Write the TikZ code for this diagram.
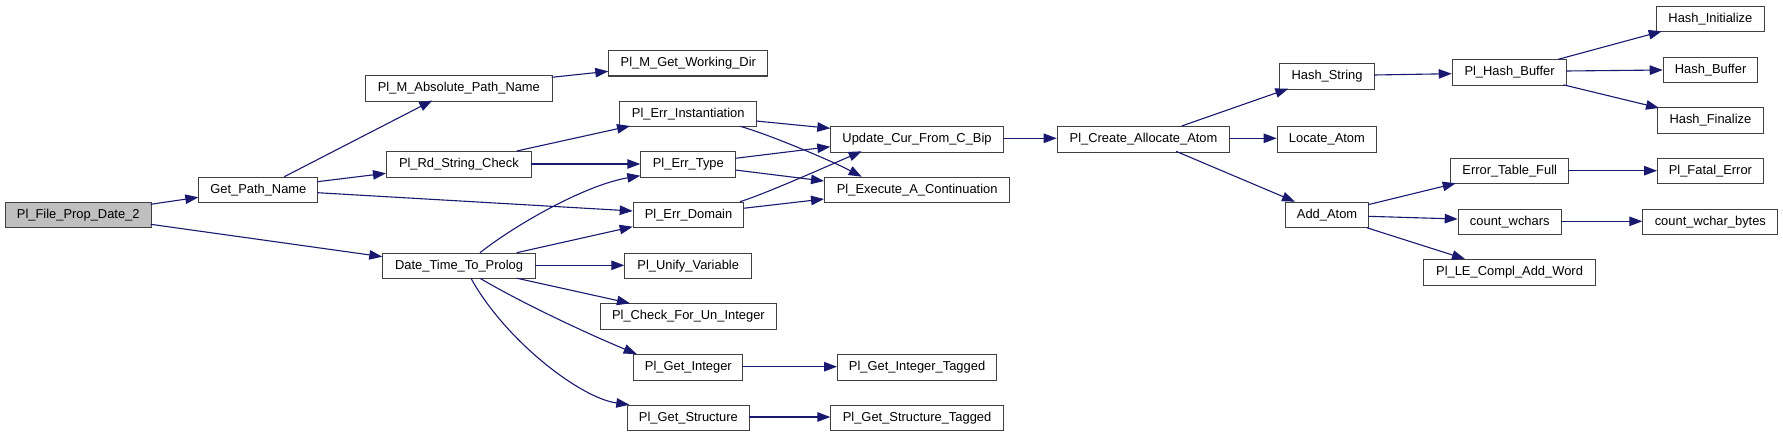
\documentclass[tikz,border=0pt]{standalone}
\usepackage{fontspec}
\setmainfont{Liberation Sans}
\usetikzlibrary{arrows.meta}
\definecolor{edgeblue}{HTML}{191970}
\definecolor{boxline}{HTML}{404040}
\definecolor{rootfill}{HTML}{BFBFBF}
\begin{document}
\begin{tikzpicture}[x=1pt,y=-1pt,
  fn/.style={draw=boxline,line width=1.1pt,fill=white,anchor=north west,inner sep=0pt,
    minimum height=25.5pt,font=\fontsize{12.9}{14}\selectfont},
  root/.style={fn,fill=rootfill},
  call/.style={draw=edgeblue,line width=1.1pt,-{Triangle[length=13pt,width=9.5pt]}}]
\fill[white] (0,0) rectangle (1783,436);
\useasboundingbox (0,0) rectangle (1783,436);
% nodes
\node[root,minimum width=146pt]   (pfpd)  at (4.7,201.7)   {Pl\_File\_Prop\_Date\_2};
\node[fn,minimum width=119pt]     (gpn)   at (198.3,176.7) {Get\_Path\_Name};
\node[fn,minimum width=186.7pt]   (pmapn) at (365,75)      {Pl\_M\_Absolute\_Path\_Name};
\node[fn,minimum width=144.7pt]   (prsc)  at (386,151)     {Pl\_Rd\_String\_Check};
\node[fn,minimum width=152.4pt]   (dttp)  at (382.3,252.7) {Date\_Time\_To\_Prolog};
\node[fn,minimum width=159pt]     (pmgwd) at (608.3,50)    {Pl\_M\_Get\_Working\_Dir};
\node[fn,minimum width=136.7pt]   (pei)   at (619.3,100.7) {Pl\_Err\_Instantiation};
\node[fn,minimum width=95pt]      (pet)   at (640.3,151)   {Pl\_Err\_Type};
\node[fn,minimum width=110.6pt]   (ped)   at (632.7,201.7) {Pl\_Err\_Domain};
\node[fn,minimum width=126.7pt]   (puv)   at (624.3,252.7) {Pl\_Unify\_Variable};
\node[fn,minimum width=176.3pt]   (pcfui) at (599.7,303.3) {Pl\_Check\_For\_Un\_Integer};
\node[fn,minimum width=109pt]     (pgi)   at (633.3,354)   {Pl\_Get\_Integer};
\node[fn,minimum width=122.3pt]   (pgs)   at (626.7,404.7) {Pl\_Get\_Structure};
\node[fn,minimum width=172.4pt]   (ucfcb) at (830.3,126)   {Update\_Cur\_From\_C\_Bip};
\node[fn,minimum width=185.3pt]   (peac)  at (824,176.7)   {Pl\_Execute\_A\_Continuation};
\node[fn,minimum width=159pt]     (pgit)  at (837,354)     {Pl\_Get\_Integer\_Tagged};
\node[fn,minimum width=172.4pt]   (pgst)  at (830.3,404.7) {Pl\_Get\_Structure\_Tagged};
\node[fn,minimum width=172.6pt]   (pcaa)  at (1056.7,126)  {Pl\_Create\_Allocate\_Atom};
\node[fn,minimum width=95pt]      (hs)    at (1279,63.3)   {Hash\_String};
\node[fn,minimum width=99.3pt]    (la)    at (1276.7,126)  {Locate\_Atom};
\node[fn,minimum width=83pt]      (aa)    at (1285,201.7)  {Add\_Atom};
\node[fn,minimum width=114.6pt]   (phb)   at (1451.7,59.3) {Pl\_Hash\_Buffer};
\node[fn,minimum width=108.3pt]   (hi)    at (1655.7,5.7)  {Hash\_Initialize};
\node[fn,minimum width=94.6pt]    (hb)    at (1662.7,56.7) {Hash\_Buffer};
\node[fn,minimum width=105.7pt]   (hf)    at (1657,107)    {Hash\_Finalize};
\node[fn,minimum width=117.7pt]   (etf)   at (1450.3,157.7){Error\_Table\_Full};
\node[fn,minimum width=105.7pt]   (pfe)   at (1657,157.7)  {Pl\_Fatal\_Error};
\node[fn,minimum width=103pt]     (cw)    at (1457.7,208.7){count\_wchars};
\node[fn,minimum width=135pt]     (cwb)   at (1642.3,208.7){count\_wchar\_bytes};
\node[fn,minimum width=171.4pt]   (plcaw) at (1423.3,259)  {Pl\_LE\_Compl\_Add\_Word};
% straight calls
\draw[call] ([shift={(146,2.6)}]pfpd.north west) -- ([shift={(0,20.6)}]gpn.north west);
\draw[call] ([shift={(146,22.6)}]pfpd.north west) -- ([shift={(0,4)}]dttp.north west);
\draw[call] ([shift={(86,0)}]gpn.north west) -- ([shift={(67.3,25.5)}]pmapn.north west);
\draw[call] ([shift={(119,5)}]gpn.north west) -- ([shift={(0,22.3)}]prsc.north west);
\draw[call] ([shift={(119,16)}]gpn.north west) -- ([shift={(0,9.3)}]ped.north west);
\draw[call] ([shift={(186.7,2.3)}]pmapn.north west) -- ([shift={(0,21.3)}]pmgwd.north west);
\draw[call] ([shift={(130.7,0)}]prsc.north west) -- ([shift={(10.7,25.3)}]pei.north west);
\draw[call] ([shift={(144.7,13)}]prsc.north west) -- ([shift={(0,13)}]pet.north west);
\draw[call] ([shift={(134.4,0)}]dttp.north west) -- ([shift={(0,25)}]ped.north west);
\draw[call] ([shift={(152.4,12.6)}]dttp.north west) -- ([shift={(0,12.6)}]puv.north west);
\draw[call] ([shift={(134.4,25.5)}]dttp.north west) -- ([shift={(30.3,0)}]pcfui.north west);
\draw[call] ([shift={(136.7,20.3)}]pei.north west) -- ([shift={(0,2.3)}]ucfcb.north west);
\draw[call] ([shift={(95,7.3)}]pet.north west) -- ([shift={(0,20.7)}]ucfcb.north west);
\draw[call] ([shift={(95,19)}]pet.north west) -- ([shift={(0,4.3)}]peac.north west);
\draw[call] ([shift={(110.6,6.6)}]ped.north west) -- ([shift={(0,22.3)}]peac.north west);
\draw[call] ([shift={(109,12.7)}]pgi.north west) -- ([shift={(0,12.7)}]pgit.north west);
\draw[call] ([shift={(122.3,12.3)}]pgs.north west) -- ([shift={(0,12.3)}]pgst.north west);
\draw[call] ([shift={(172.4,12.3)}]ucfcb.north west) -- ([shift={(0,12.3)}]pcaa.north west);
\draw[call] ([shift={(125,0)}]pcaa.north west) -- ([shift={(9.3,25.4)}]hs.north west);
\draw[call] ([shift={(172.6,12.3)}]pcaa.north west) -- ([shift={(0,12.3)}]la.north west);
\draw[call] ([shift={(119.3,25.3)}]pcaa.north west) -- ([shift={(10,0)}]aa.north west);
\draw[call] ([shift={(95,11.7)}]hs.north west) -- ([shift={(0,14.4)}]phb.north west);
\draw[call] ([shift={(106.6,0)}]phb.north west) -- ([shift={(6,25.6)}]hi.north west);
\draw[call] ([shift={(114.6,11.7)}]phb.north west) -- ([shift={(0,13.3)}]hb.north west);
\draw[call] ([shift={(111.6,25.5)}]phb.north west) -- ([shift={(2,1)}]hf.north west);
\draw[call] ([shift={(83,3)}]aa.north west) -- ([shift={(5.4,25.6)}]etf.north west);
\draw[call] ([shift={(83,14.6)}]aa.north west) -- ([shift={(0,10.3)}]cw.north west);
\draw[call] ([shift={(81.7,26)}]aa.north west) -- ([shift={(41.7,0)}]plcaw.north west);
\draw[call] ([shift={(117.7,13)}]etf.north west) -- ([shift={(0,13)}]pfe.north west);
\draw[call] ([shift={(103,12.6)}]cw.north west) -- ([shift={(0,12.6)}]cwb.north west);
% curved calls
\draw[call] ([shift={(97.7,0)}]dttp.north west) .. controls (515,225) and (585,185) .. ([shift={(0,24.7)}]pet.north west);
\draw[call] ([shift={(97.7,25.6)}]dttp.north west) .. controls (520,302) and (586.7,333.5) .. ([shift={(3.4,0)}]pgi.north west);
\draw[call] ([shift={(88.7,25.6)}]dttp.north west) .. controls (505,340) and (580,398) .. ([shift={(2.6,0)}]pgs.north west);
\draw[call] ([shift={(120.7,25.6)}]pei.north west) .. controls (765,133) and (830,160) .. ([shift={(37.7,0)}]peac.north west);
\draw[call] ([shift={(107.3,0)}]ped.north west) .. controls (765,194) and (830,165) .. ([shift={(31.4,25.3)}]ucfcb.north west);
\end{tikzpicture}
\end{document}
